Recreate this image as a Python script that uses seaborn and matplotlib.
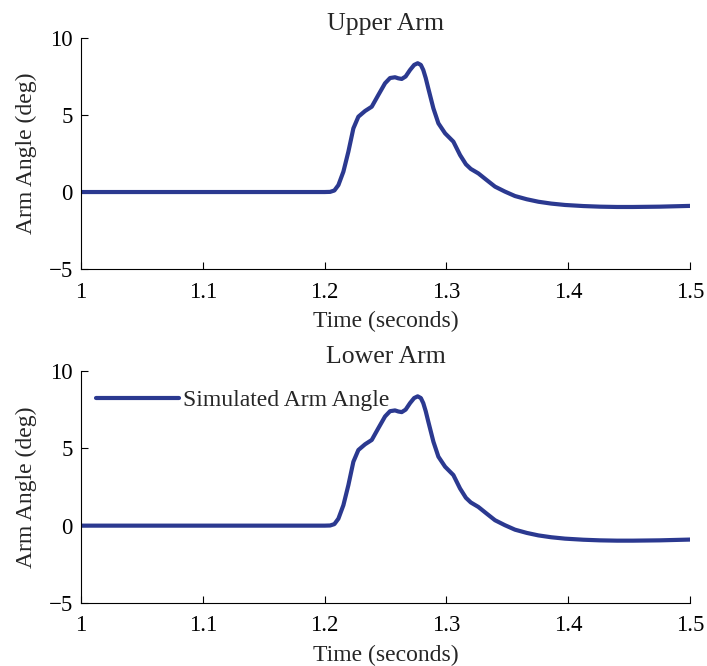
import matplotlib
matplotlib.use('Agg')
import matplotlib.pyplot as plt
import pandas as pd
import seaborn as sns

# values (time in s, angle in deg)
time_s = [1.00, 1.10, 1.20, 1.2045, 1.2080, 1.2113, 1.2154, 1.2195, 1.2236, 1.2277,
          1.2332, 1.2387, 1.2441, 1.2496, 1.2537, 1.2578, 1.2605, 1.2633, 1.2665, 1.2701,
          1.2735, 1.2764, 1.2790, 1.2810, 1.2830, 1.2851, 1.2893, 1.2934, 1.2989, 1.3057,
          1.3112, 1.3160, 1.3200, 1.3262, 1.3330, 1.3399, 1.3480, 1.3563, 1.3660, 1.3755,
          1.3860, 1.3974, 1.4124, 1.4260, 1.4400, 1.4530, 1.4750, 1.5000]
angle_deg = [0.0, 0.0, 0.0, 0.01, 0.10, 0.45, 1.32, 2.62, 4.13, 4.89,
             5.26, 5.54, 6.30, 7.06, 7.40, 7.45, 7.38, 7.34, 7.50, 7.92,
             8.25, 8.36, 8.25, 7.92, 7.40, 6.73, 5.43, 4.46, 3.81, 3.27,
             2.40, 1.80, 1.50, 1.21, 0.78, 0.35, 0.03, -0.26, -0.47, -0.63,
             -0.75, -0.84, -0.91, -0.95, -0.97, -0.97, -0.95, -0.90]
panel_titles = ['Upper Arm', 'Lower Arm']
x_ticks = [1, 1.1, 1.2, 1.3, 1.4, 1.5]
x_tick_labels = ['1', '1.1', '1.2', '1.3', '1.4', '1.5']
y_ticks = [-5, 0, 5, 10]
y_tick_labels = ['\u22125', '0', '5', '10']

LINE_COLOR = '#2b3990'

sns.set_style('ticks')
plt.rcParams['font.family'] = ['Liberation Serif', 'DejaVu Serif']
plt.rcParams['xtick.direction'] = 'in'
plt.rcParams['ytick.direction'] = 'in'

df = pd.DataFrame({'time': time_s, 'angle': angle_deg})

fig = plt.figure(figsize=(7.07, 6.66), dpi=100)
axes = [fig.add_axes([0.1146, 0.596, 0.8614, 0.347]),
        fig.add_axes([0.1146, 0.0946, 0.8614, 0.3484])]

for i, ax in enumerate(axes):
    sns.lineplot(data=df, x='time', y='angle', ax=ax, color=LINE_COLOR,
                 linewidth=3.0, label='Simulated Arm Angle' if i == 1 else None)
    ax.set_xlim(1, 1.5)
    ax.set_ylim(-5, 10)
    ax.set_xticks(x_ticks)
    ax.set_xticklabels(x_tick_labels)
    ax.set_yticks(y_ticks)
    ax.set_yticklabels(y_tick_labels)
    ax.tick_params(length=5, width=0.8, colors='black', labelsize=16.5)
    ax.tick_params(axis='x', pad=9)
    ax.tick_params(axis='y', pad=6)
    for s in ['top', 'right']:
        ax.spines[s].set_visible(False)
    for s in ['left', 'bottom']:
        ax.spines[s].set_color('black')
        ax.spines[s].set_linewidth(0.8)
    ax.set_xlabel('Time (seconds)', fontsize=17, labelpad=6)
    ax.set_ylabel('Arm Angle (deg)', fontsize=17, labelpad=8)
    ax.set_title(panel_titles[i], fontsize=18.5, pad=5.5)

axes[1].legend(loc='center left', frameon=False, handlelength=3.5,
               handletextpad=0.2, fontsize=17, borderpad=0, borderaxespad=0,
               bbox_to_anchor=(0.0246, 0.872))

plt.savefig('out.png', dpi=100)
plt.close()
